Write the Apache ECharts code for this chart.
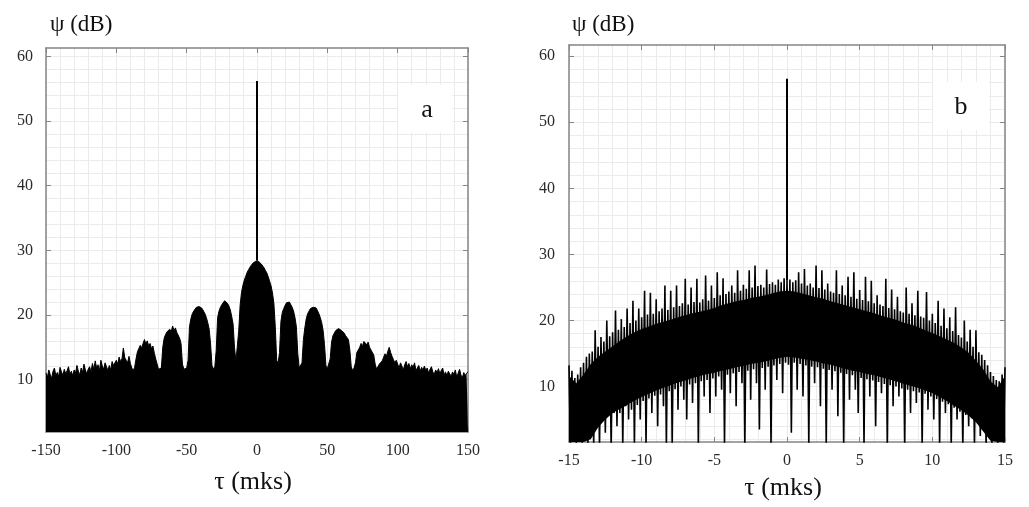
<!DOCTYPE html>
<html><head><meta charset="utf-8">
<script src="https://cdn.jsdelivr.net/npm/echarts@6/dist/echarts.min.js"></script>
<style>html,body{margin:0;padding:0;background:#fff}#c{width:1029px;height:507px}</style>
</head><body><div id="c"></div>
<script>
// ---------- data ----------
// panel a: upper edge of the filled response, sampled every 1 mks from -150
const tauA0 = -150, tauAStep = 1;
const psiA = [
 11.0,10.4,11.5,10.8,10.2,11.3,11.8,10.6,11.1,10.5,
 11.9,11.2,10.7,11.6,10.9,11.4,12.0,10.8,11.3,10.6,
 11.5,11.0,12.2,11.3,10.7,11.8,11.1,12.4,11.5,10.9,
 11.6,12.0,11.2,12.5,11.6,12.9,11.8,12.3,11.4,13.0,
 12.1,11.6,12.6,12.0,11.4,12.2,11.5,12.8,12.2,12.6,
 13.0,12.4,13.5,12.8,13.2,14.9,13.4,13.0,12.6,13.6,
 12.5,11.8,11.4,11.9,13.2,14.3,14.8,15.3,14.9,15.6,
 16.2,15.5,16.0,15.2,15.6,14.8,15.2,14.1,13.2,12.4,
 11.6,11.3,11.8,15.0,16.4,17.0,17.4,17.1,17.8,17.4,
 18.3,17.6,18.0,17.3,17.0,16.4,15.6,12.4,11.6,11.8,
 11.8,13.0,18.2,19.4,20.2,20.6,20.9,21.2,21.0,21.3,
 21.2,21.0,20.6,20.2,19.6,18.8,17.8,15.5,12.2,11.6,
 12.0,14.5,19.6,20.6,21.2,21.6,21.9,22.2,22.1,21.8,
 21.4,20.8,19.8,18.6,15.0,12.8,12.6,17.5,21.5,23.5,
 24.6,25.4,26.0,26.6,27.0,27.4,27.7,28.0,28.2,28.3,
 28.4,28.3,28.1,27.9,27.6,27.3,26.9,26.5,25.9,25.2,
 24.5,23.4,21.8,18.2,13.0,12.5,14.2,19.0,20.4,21.0,
 21.5,21.9,22.1,22.0,21.7,21.2,20.6,19.6,18.2,14.0,
 11.8,12.0,12.6,16.2,18.0,19.4,20.2,20.6,21.0,21.1,
 21.2,21.0,21.1,20.7,20.2,19.6,18.8,17.6,15.4,12.2,
 11.7,11.9,13.2,15.8,16.8,17.2,17.6,17.4,17.9,18.0,
 17.6,17.8,17.2,16.8,17.0,16.2,14.6,12.0,11.4,11.8,
 12.6,14.2,14.6,15.0,15.6,15.2,15.9,16.0,15.4,15.8,
 15.0,14.6,14.8,13.8,12.4,11.6,11.8,12.4,12.2,12.9,
 13.2,14.0,13.6,14.4,15.0,14.2,13.6,13.1,12.6,13.0,
 12.4,11.8,12.6,12.1,11.5,12.3,12.8,12.0,12.5,11.7,
 12.3,11.9,12.6,11.4,11.8,12.2,11.3,11.9,11.5,12.1,
 11.4,11.8,11.0,11.6,12.0,11.2,10.8,11.5,11.1,11.7,
 10.9,11.4,11.8,10.7,11.2,10.6,11.3,11.0,10.5,11.2,
 10.8,11.5,10.4,11.0,11.6,10.7,10.3,11.1,10.6,11.0,
 11.2
];
const spikeTauA = 0, spikeA = [28.4, 56.2];

// panel b: alternating peak / trough samples, every 0.1 mks from -15
const tauB0 = -15, tauBStep = 0.1;
const psiBPeaks = [
 13.2,12.4,11.3,11.8,12.9,13.6,14.5,15.0,15.3,18.5,
 16.0,17.5,16.8,20.0,17.6,18.2,21.5,18.6,20.2,19.0,
 21.8,19.6,23.0,20.0,21.8,20.5,24.5,20.9,24.2,21.0,
 23.2,21.4,21.8,25.3,21.6,24.5,22.0,25.3,22.2,22.6,
 26.3,22.4,25.0,22.8,26.3,22.7,23.2,26.8,23.0,25.3,
 23.4,27.3,23.8,26.4,24.0,24.4,25.3,24.2,27.6,24.5,
 25.4,24.8,27.6,25.0,28.3,25.2,25.4,25.0,27.7,25.5,
 25.8,25.4,26.2,25.8,26.4,26.0,26.2,25.8,26.1,27.3,
 25.6,27.8,25.3,25.6,25.0,28.3,24.9,27.6,24.7,25.6,
 24.4,24.2,27.6,24.0,25.3,23.8,26.6,23.6,27.3,23.3,
 24.6,23.1,26.6,22.9,26.0,22.6,23.8,22.4,22.2,26.3,
 21.9,24.7,21.7,23.6,21.4,21.2,25.0,21.0,22.6,20.8,
 24.5,20.6,20.4,24.3,20.0,21.0,19.6,23.0,19.2,21.8,
 18.8,20.5,18.4,22.0,17.8,17.4,20.0,16.8,18.6,16.0,
 18.5,15.2,14.8,14.0,13.2,12.2,11.6,11.0,10.8,11.8,
 12.9
];
const psiBTroughs = [
 1.0,2.5,1.0,3.0,1.0,2.0,1.0,3.5,1.0,4.5,
 1.0,5.5,3.0,6.0,1.0,6.0,4.0,6.0,1.0,7.0,
 5.0,6.5,1.0,7.2,5.0,7.8,1.0,8.2,6.0,8.6,
 4.0,8.8,7.0,1.0,9.3,1.0,9.6,6.5,10.0,8.0,
 5.0,10.3,7.5,10.5,1.0,10.8,8.5,11.0,6.0,11.2,
 8.5,11.5,9.5,1.0,11.8,9.0,12.0,7.0,12.2,10.5,
 1.0,12.4,8.0,12.6,10.5,3.5,12.8,9.5,13.0,1.0,
 13.2,11.0,13.4,9.0,13.6,13.3,3.0,13.6,9.5,13.4,
 8.5,13.2,1.0,13.0,10.5,12.9,7.0,12.7,1.0,12.5,
 9.5,12.3,5.5,12.1,1.0,11.9,8.0,11.7,9.5,6.0,
 11.3,1.0,11.1,8.5,10.9,4.0,10.7,9.0,10.4,1.0,
 10.2,7.0,10.0,8.5,9.7,1.0,9.5,6.0,9.3,7.5,
 9.1,1.0,8.9,6.5,8.5,5.0,8.1,1.0,7.7,6.0,
 7.3,1.0,6.8,5.0,6.2,1.0,5.7,4.0,5.2,1.0,
 4.5,2.5,3.8,1.0,3.0,1.0,2.0,1.0,2.5,1.0
];
// panel b: solid core of the dense band, every 0.5 mks from -15
const tauBand0 = -15, tauBandStep = 0.5;
const bandLoB = [
 1.6,1.6,1.6,2.0,3.8,5.0,6.0,6.6,7.2,7.9,
 8.4,8.9,9.4,9.8,10.2,10.6,10.9,11.3,11.6,11.9,
 12.1,12.4,12.6,12.9,13.1,13.4,13.6,13.8,14.1,14.3,
 14.5,14.4,14.2,14.0,13.8,13.5,13.3,13.0,12.7,12.4,
 12.2,11.9,11.7,11.4,11.1,10.8,10.4,10.1,9.8,9.4,
 9.0,8.4,7.8,7.1,6.4,5.6,4.6,3.2,1.8,1.6,
 1.6
];
const bandHiB = [
 11.6,10.5,11.8,13.4,14.5,15.3,16.1,16.9,17.6,18.2,
 18.7,19.1,19.5,19.8,20.1,20.5,20.8,21.1,21.3,21.6,
 21.9,22.3,22.6,22.9,23.1,23.4,23.6,23.8,24.1,24.4,
 24.5,24.4,24.1,23.8,23.5,23.3,22.9,22.6,22.3,22.0,
 21.7,21.4,21.1,20.7,20.4,20.1,19.7,19.4,19.0,18.5,
 18.1,17.6,17.1,16.6,15.9,15.1,13.9,12.6,10.8,9.9,
 11.6
];
const spikeTauB = 0, spikeB = [26.0, 56.6];

const yTicks = [10, 20, 30, 40, 50, 60];
const xRangeA = [-150, 150], xIntA = 50;
const xRangeB = [-15, 15], xIntB = 5;

// ---------- build series data ----------
const dataA = psiA.map((v, i) => [tauA0 + i * tauAStep, v]);
const dataB = [];
for (let i = 0; i < psiBPeaks.length; i++) {
  dataB.push([tauB0 + (2 * i) * tauBStep, psiBPeaks[i]]);
  if (i < psiBTroughs.length) dataB.push([tauB0 + (2 * i + 1) * tauBStep, psiBTroughs[i]]);
}
const bandTau = bandHiB.map((v, i) => tauBand0 + i * tauBandStep);
const gridY = [];
for (let v = 2; v <= 60; v += 2) gridY.push(v);

// ---------- styles ----------
const FONT = '"Liberation Serif", "DejaVu Serif", serif';
const BORDER = { show: true, onZero: false, lineStyle: { color: '#858585', width: 1.5 } };
const TICK = { show: true, inside: true, length: 5, lineStyle: { color: '#858585', width: 1 } };
const GRIDC = '#ebebeb';

function xAxes(gi, range, interval, margin) {
  return [
    { type: 'value', gridIndex: gi, position: 'bottom', min: range[0], max: range[1], interval: interval,
      axisLine: BORDER, axisTick: TICK,
      axisLabel: { margin: margin, fontFamily: FONT, fontSize: 16, color: '#2a2a2a' },
      splitLine: { show: true, lineStyle: { color: GRIDC, width: 1 } },
      minorTick: { show: false, splitNumber: 5 },
      minorSplitLine: { show: true, lineStyle: { color: GRIDC, width: 1 } } },
    { type: 'value', gridIndex: gi, position: 'top', min: range[0], max: range[1], interval: interval,
      axisLine: BORDER, axisTick: TICK, axisLabel: { show: false }, splitLine: { show: false } }
  ];
}
function yAxes(gi, min, max, margin) {
  return [
    { type: 'value', gridIndex: gi, position: 'left', min: min, max: max,
      axisLine: BORDER, axisTick: Object.assign({ customValues: yTicks }, TICK),
      axisLabel: { customValues: yTicks, margin: margin, fontFamily: FONT, fontSize: 16, color: '#2a2a2a' },
      splitLine: { show: false } },
    { type: 'value', gridIndex: gi, position: 'right', min: min, max: max,
      axisLine: BORDER, axisTick: Object.assign({ customValues: yTicks }, TICK),
      axisLabel: { show: false }, splitLine: { show: false } },
    { type: 'value', gridIndex: gi, position: 'left', min: min, max: max,
      axisLine: { show: false }, axisTick: { show: false, customValues: gridY },
      axisLabel: { show: false },
      splitLine: { show: true, lineStyle: { color: GRIDC, width: 1 } } }
  ];
}

function renderBand(params, api) {
  const pts = [];
  for (let i = 0; i < bandTau.length; i++) pts.push(api.coord([bandTau[i], bandHiB[i]]));
  for (let i = bandTau.length - 1; i >= 0; i--) pts.push(api.coord([bandTau[i], bandLoB[i]]));
  return { type: 'polygon', shape: { points: pts }, style: { fill: '#000' } };
}

const chart = echarts.init(document.getElementById('c'), null, { renderer: 'canvas' });
chart.setOption({
  animation: false,
  backgroundColor: '#fff',
  grid: [
    { left: 46, top: 48, width: 422, height: 384 },
    { left: 569, top: 45, width: 436, height: 397 }
  ],
  xAxis: [].concat(xAxes(0, xRangeA, xIntA, 11), xAxes(1, xRangeB, xIntB, 11)),
  yAxis: [].concat(yAxes(0, 1.9, 61.3, 13), yAxes(1, 1.6, 61.7, 14)),
  series: [
    { type: 'line', xAxisIndex: 0, yAxisIndex: 0, data: dataA, symbol: 'none', z: 3,
      lineStyle: { color: '#000', width: 1 }, areaStyle: { color: '#000', opacity: 1, origin: 'start' } },
    { type: 'line', xAxisIndex: 0, yAxisIndex: 0, symbol: 'none', z: 4,
      data: spikeA.map(v => [spikeTauA, v]), lineStyle: { color: '#000', width: 2 } },
    { type: 'custom', xAxisIndex: 2, yAxisIndex: 3, z: 2, clip: true,
      data: [[0, bandHiB[30]]], renderItem: renderBand },
    { type: 'line', xAxisIndex: 2, yAxisIndex: 3, data: dataB, symbol: 'none', z: 3, clip: true,
      lineStyle: { color: '#000', width: 1.6 } },
    { type: 'line', xAxisIndex: 2, yAxisIndex: 3, symbol: 'none', z: 4,
      data: spikeB.map(v => [spikeTauB, v]), lineStyle: { color: '#000', width: 2 } }
  ],
  graphic: [
    { type: 'text', x: 50, y: 25, style: { text: 'ψ (dB)', font: '23px ' + FONT, fill: '#111', align: 'left', verticalAlign: 'middle' } },
    { type: 'text', x: 572, y: 25, style: { text: 'ψ (dB)', font: '23px ' + FONT, fill: '#111', align: 'left', verticalAlign: 'middle' } },
    { type: 'text', x: 253, y: 482, style: { text: 'τ (mks)', font: '26px ' + FONT, fill: '#111', align: 'center', verticalAlign: 'middle' } },
    { type: 'text', x: 783, y: 488, style: { text: 'τ (mks)', font: '26px ' + FONT, fill: '#111', align: 'center', verticalAlign: 'middle' } },
    { type: 'rect', z: 50, shape: { x: 398, y: 85, width: 54, height: 47 }, style: { fill: '#fff' } },
    { type: 'text', z: 51, x: 427, y: 110, style: { text: 'a', font: '26px ' + FONT, fill: '#111', align: 'center', verticalAlign: 'middle' } },
    { type: 'rect', z: 50, shape: { x: 933, y: 82, width: 56, height: 48 }, style: { fill: '#fff' } },
    { type: 'text', z: 51, x: 961, y: 107, style: { text: 'b', font: '26px ' + FONT, fill: '#111', align: 'center', verticalAlign: 'middle' } }
  ]
});
</script></body></html>
